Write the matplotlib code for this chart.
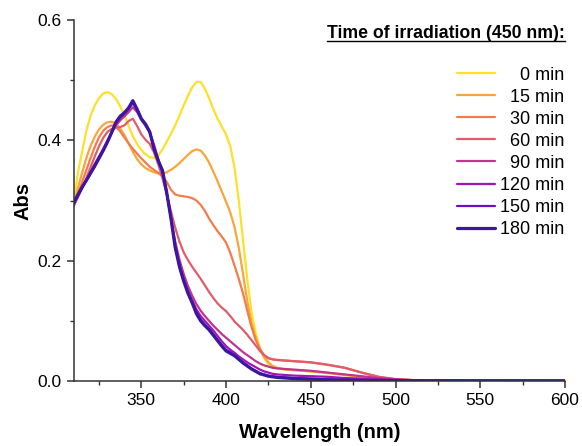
import numpy as np
import matplotlib
matplotlib.use("Agg")
import matplotlib.pyplot as plt
from matplotlib.ticker import MultipleLocator
from matplotlib.lines import Line2D

plt.rcParams["font.family"] = ["Liberation Sans", "DejaVu Sans"]

# wavelength grid (nm): 2.5 nm steps up to 430, coarser in the flat tail
wl = [310, 312.5, 315, 317.5, 320, 322.5, 325,
      327.5, 330, 332.5, 335, 337.5, 340, 342.5,
      345, 347.5, 350, 352.5, 355, 357.5, 360,
      362.5, 365, 367.5, 370, 372.5, 375, 377.5,
      380, 382.5, 385, 387.5, 390, 392.5, 395,
      397.5, 400, 402.5, 405, 407.5, 410, 412.5,
      415, 417.5, 420, 422.5, 425, 427.5, 430,
      435, 440, 445, 450, 460, 470, 480, 490, 500, 510, 520, 540, 560, 580, 600]

abs_0 = [0.295, 0.345, 0.380, 0.415, 0.440, 0.458, 0.470,
         0.478, 0.480, 0.477, 0.469, 0.457, 0.442, 0.424,
         0.407, 0.394, 0.384, 0.377, 0.372, 0.371, 0.375,
         0.385, 0.398, 0.411, 0.425, 0.441, 0.458, 0.474,
         0.488, 0.497, 0.497, 0.486, 0.470, 0.452, 0.436,
         0.423, 0.410, 0.390, 0.355, 0.300, 0.235, 0.170,
         0.115, 0.080, 0.055, 0.038, 0.028, 0.023, 0.021,
         0.019, 0.018, 0.017, 0.016, 0.013, 0.010, 0.007, 0.004, 0.002, 0.001, 0.0007, 0.0005, 0.0004, 0.0003, 0.0003]
abs_15 = [0.290, 0.320, 0.345, 0.370, 0.390, 0.406, 0.418,
          0.426, 0.430, 0.431, 0.428, 0.420, 0.409, 0.395,
          0.381, 0.369, 0.360, 0.354, 0.350, 0.347, 0.345,
          0.345, 0.347, 0.351, 0.356, 0.362, 0.369, 0.376,
          0.382, 0.385, 0.383, 0.375, 0.363, 0.348, 0.332,
          0.315, 0.298, 0.280, 0.256, 0.222, 0.178, 0.133,
          0.097, 0.071, 0.053, 0.040, 0.031, 0.025, 0.022,
          0.019, 0.018, 0.017, 0.016, 0.0135, 0.010, 0.007, 0.004, 0.002, 0.001, 0.0007, 0.0005, 0.0004, 0.0003, 0.0003]
abs_30 = [0.290, 0.310, 0.330, 0.350, 0.370, 0.389, 0.405,
          0.416, 0.422, 0.425, 0.423, 0.415, 0.405, 0.395,
          0.386, 0.378, 0.370, 0.363, 0.356, 0.351, 0.346,
          0.340, 0.331, 0.318, 0.310, 0.308, 0.307, 0.306,
          0.304, 0.300, 0.293, 0.283, 0.270, 0.259, 0.249,
          0.240, 0.230, 0.213, 0.192, 0.170, 0.146, 0.117,
          0.090, 0.068, 0.053, 0.043, 0.038, 0.036, 0.035,
          0.034, 0.033, 0.032, 0.031, 0.027, 0.022, 0.014, 0.007, 0.003, 0.0015, 0.001, 0.0007, 0.0005, 0.0005, 0.0005]
abs_60 = [0.290, 0.305, 0.320, 0.337, 0.355, 0.373, 0.390,
          0.404, 0.414, 0.419, 0.421, 0.422, 0.425, 0.432,
          0.436, 0.424, 0.410, 0.401, 0.394, 0.380, 0.360,
          0.337, 0.310, 0.282, 0.255, 0.232, 0.214, 0.201,
          0.190, 0.180, 0.170, 0.159, 0.148, 0.138, 0.129,
          0.122, 0.116, 0.108, 0.099, 0.092, 0.085, 0.077,
          0.068, 0.059, 0.050, 0.043, 0.038, 0.036, 0.035,
          0.034, 0.033, 0.032, 0.031, 0.027, 0.022, 0.014, 0.007, 0.003, 0.0015, 0.001, 0.0007, 0.0005, 0.0005, 0.0005]
abs_90 = [0.292, 0.306, 0.320, 0.334, 0.348, 0.361, 0.373,
          0.386, 0.400, 0.413, 0.425, 0.433, 0.440, 0.447,
          0.455, 0.447, 0.434, 0.424, 0.413, 0.393, 0.369,
          0.343, 0.312, 0.272, 0.232, 0.202, 0.178, 0.158,
          0.142, 0.128, 0.117, 0.108, 0.100, 0.092, 0.085,
          0.078, 0.072, 0.066, 0.060, 0.054, 0.048, 0.043,
          0.038, 0.033, 0.029, 0.026, 0.024, 0.022, 0.021,
          0.020, 0.019, 0.018, 0.017, 0.014, 0.011, 0.008, 0.005, 0.003, 0.0015, 0.001, 0.0005, 0.0004, 0.0003, 0.0003]
abs_120 = [0.294, 0.308, 0.321, 0.333, 0.346, 0.358, 0.371,
           0.384, 0.398, 0.413, 0.428, 0.437, 0.444, 0.452,
           0.462, 0.450, 0.436, 0.426, 0.413, 0.388, 0.367,
           0.349, 0.313, 0.271, 0.225, 0.194, 0.170, 0.150,
           0.134, 0.119, 0.108, 0.100, 0.092, 0.084, 0.075,
           0.066, 0.058, 0.052, 0.047, 0.041, 0.036, 0.031,
           0.027, 0.023, 0.019, 0.016, 0.014, 0.012, 0.011,
           0.010, 0.009, 0.0085, 0.008, 0.007, 0.005, 0.004, 0.003, 0.002, 0.001, 0.0007, 0.0005, 0.0004, 0.0003, 0.0003]
abs_150 = [0.295, 0.309, 0.322, 0.333, 0.345, 0.357, 0.370,
           0.383, 0.397, 0.413, 0.430, 0.439, 0.445, 0.453,
           0.465, 0.451, 0.436, 0.427, 0.414, 0.387, 0.366,
           0.350, 0.313, 0.271, 0.223, 0.191, 0.167, 0.147,
           0.131, 0.114, 0.102, 0.094, 0.087, 0.078, 0.069,
           0.060, 0.052, 0.048, 0.043, 0.037, 0.031, 0.026,
           0.021, 0.017, 0.013, 0.011, 0.009, 0.008, 0.007,
           0.006, 0.005, 0.0045, 0.004, 0.003, 0.002, 0.0015, 0.001, 0.0008, 0.0006, 0.0005, 0.0004, 0.0003, 0.0003, 0.0003]
abs_180 = [0.295, 0.309, 0.322, 0.333, 0.345, 0.357, 0.370,
           0.383, 0.397, 0.413, 0.430, 0.440, 0.446, 0.454,
           0.466, 0.452, 0.436, 0.427, 0.414, 0.386, 0.366,
           0.350, 0.313, 0.270, 0.222, 0.190, 0.166, 0.146,
           0.130, 0.112, 0.100, 0.092, 0.085, 0.076, 0.067,
           0.058, 0.050, 0.046, 0.042, 0.036, 0.030, 0.025,
           0.020, 0.016, 0.012, 0.010, 0.008, 0.007, 0.006,
           0.005, 0.004, 0.0035, 0.003, 0.002, 0.0015, 0.001, 0.0008, 0.0006, 0.0005, 0.0004, 0.0003, 0.0003, 0.0003, 0.0003]

series = [abs_0, abs_15, abs_30, abs_60, abs_90, abs_120, abs_150, abs_180]
times = ["0", "15", "30", "60", "90", "120", "150", "180"]
colors = ["#fde02a", "#f9a53a", "#f27d4b", "#e05c6b", "#c0358e", "#a016b3", "#6a0ec0", "#3a17a2"]

fig = plt.figure(figsize=(5.82, 4.46), dpi=100)
ax = fig.add_axes([0.1263, 0.1457, 0.8445, 0.8094])

for i, (y, t, c) in enumerate(zip(series, times, colors)):
    lw = 2.3 if i == len(series) - 1 else 1.6
    pad = "\u2007" * (3 - len(t))
    ax.plot(wl, y, color=c, lw=lw, label=pad + t + " min",
            solid_joinstyle="round", solid_capstyle="round")

ax.set_xlim(310, 600)
ax.set_ylim(0, 0.6)
ax.xaxis.set_major_locator(MultipleLocator(50))
ax.xaxis.set_minor_locator(MultipleLocator(25))
ax.yaxis.set_major_locator(MultipleLocator(0.2))
ax.yaxis.set_minor_locator(MultipleLocator(0.1))
ax.yaxis.set_major_formatter(plt.FormatStrFormatter("%.1f"))
for s in ["top", "right"]:
    ax.spines[s].set_visible(False)
for s in ["left", "bottom"]:
    ax.spines[s].set_linewidth(1.1)
    ax.spines[s].set_color("#333333")
ax.tick_params(which="major", direction="out", length=5, width=1.1, labelsize=12.5, color="#333333")
ax.tick_params(which="minor", direction="out", length=3, width=1.0, color="#333333")

ax.set_xlabel("Wavelength (nm)", fontsize=14.5, fontweight="bold", labelpad=11)
ax.set_ylabel("Abs", fontsize=14.5, fontweight="bold", labelpad=4)

title = ax.text(1.0, 0.964, "Time of irradiation (450 nm):", transform=ax.transAxes,
                ha="right", va="center", fontsize=12.7, fontweight="bold")

leg = ax.legend(loc="upper right", bbox_to_anchor=(1.014, 0.891), frameon=False,
                fontsize=13, handlelength=2.1, handletextpad=0.28, labelspacing=0.28,
                borderaxespad=0)

# underline the title
fig.canvas.draw()
bb = title.get_window_extent()
uy = bb.y0 + 1
fig.add_artist(Line2D([bb.x0, bb.x1], [uy, uy], transform=None, color="black", lw=1.0))

fig.savefig("out.png", dpi=100)
